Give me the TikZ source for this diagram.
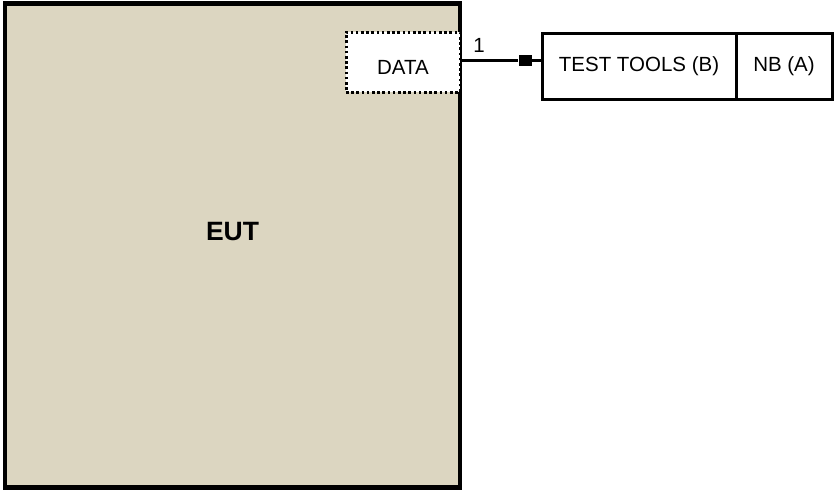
\documentclass[tikz,border=0pt]{standalone}
\usepackage{fontspec}
\setmainfont{Liberation Sans}
\usepackage{tikz}
\usetikzlibrary{positioning}
\definecolor{eutbg}{RGB}{220,214,193}

\begin{document}
\begin{tikzpicture}[
  x=1pt, y=-1pt,
  font=\fontsize{20.5}{24}\selectfont,
  box/.style={draw=black, rectangle, line width=3pt, outer sep=0pt, inner sep=0pt, fill=white},
  port/.style={box, dash pattern=on 2.6pt off 2.6pt, line width=3pt},
  wire/.style={draw=black, line width=3pt}
]
\useasboundingbox (0,0) rectangle (835,490);
\node[box, fill=eutbg, line width=4.5pt, minimum width=455pt, minimum height=484pt] (eut) at (232.5,245.25) {};
\node[font=\fontsize{26.5}{30}\selectfont\bfseries] (eutlabel) at (232.5,232) {EUT};
\node[port, minimum width=114pt, minimum height=60pt, text height=24pt, text depth=0pt] (data) at (403,62) {DATA};
\node[box, minimum width=194pt, minimum height=66pt] (tools) at (639,66) {TEST TOOLS (B)};
\node[box, right=0pt of tools, minimum width=96pt, minimum height=66pt] (nb) {NB (A)};
\node[fill=black, minimum width=13pt, minimum height=11pt, inner sep=0pt] (plug) at (525,60) {};
\node (num) at (479,45) {1};
\draw[wire] (data.east |- plug) -- (plug) -- (plug -| tools.west);
\end{tikzpicture}
\end{document}
